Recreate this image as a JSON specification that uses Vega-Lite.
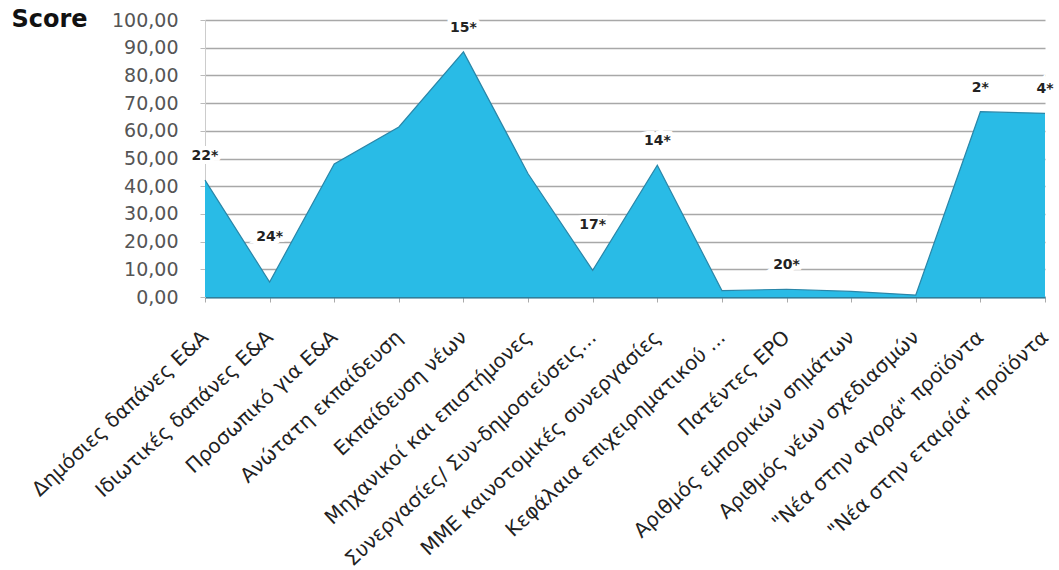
{
  "$schema": "https://vega.github.io/schema/vega-lite/v6.json",
  "width": 840,
  "height": 277,
  "autosize": {"type": "none"},
  "padding": {"left": 205, "top": 20, "right": 14, "bottom": 273},
  "background": "white",
  "config": {
    "view": {"stroke": null},
    "font": "DejaVu Sans"
  },
  "data": {
    "values": [
      {"cat": "Δημόσιες δαπάνες Ε&Α", "value": 42.2, "label": "22*", "extremum": "max"},
      {"cat": "Ιδιωτικές δαπάνες Ε&Α", "value": 5.4, "label": "24*", "extremum": "min"},
      {"cat": "Προσωπικό για Ε&Α", "value": 48.0, "label": "", "extremum": ""},
      {"cat": "Ανώτατη εκπαίδευση", "value": 61.4, "label": "", "extremum": ""},
      {"cat": "Εκπαίδευση νέων", "value": 88.5, "label": "15*", "extremum": "max"},
      {"cat": "Μηχανικοί και επιστήμονες", "value": 44.5, "label": "", "extremum": ""},
      {"cat": "Συνεργασίες/ Συν-δημοσιεύσεις...", "value": 9.6, "label": "17*", "extremum": "min"},
      {"cat": "ΜΜΕ καινοτομικές συνεργασίες", "value": 47.6, "label": "14*", "extremum": "max"},
      {"cat": "Κεφάλαια επιχειρηματικού ...", "value": 2.3, "label": "", "extremum": ""},
      {"cat": "Πατέντες EPO", "value": 2.8, "label": "20*", "extremum": "max"},
      {"cat": "Αριθμός εμπορικών σημάτων", "value": 2.0, "label": "", "extremum": ""},
      {"cat": "Αριθμός νέων σχεδιασμών", "value": 0.7, "label": "", "extremum": ""},
      {"cat": "\"Νέα στην αγορά\" προϊόντα", "value": 66.9, "label": "2*", "extremum": "max"},
      {"cat": "\"Νέα στην εταιρία\" προϊόντα", "value": 66.3, "label": "4*", "extremum": "max"}
    ]
  },
  "encoding": {
    "x": {
      "field": "cat",
      "type": "nominal",
      "sort": null,
      "scale": {"type": "point", "padding": 0},
      "axis": {
        "title": null,
        "labelAngle": -43,
        "labelAlign": "right",
        "labelBaseline": "middle",
        "labelFont": "DejaVu Sans",
        "labelFontSize": 20,
        "labelColor": "#222",
        "labelPadding": 32,
        "labelLimit": 400,
        "labelOverlap": false,
        "ticks": true,
        "tickSize": 5,
        "tickColor": "#aaa",
        "domainColor": "#2f7f9c",
        "domainWidth": 2,
        "grid": false
      }
    },
    "y": {
      "field": "value",
      "type": "quantitative",
      "scale": {"domain": [0, 100], "nice": false},
      "axis": {
        "tickCount": 10,
        "labelOverlap": false,
        "labelExpr": "replace(format(datum.value, '.2f'), '.', ',')",
        "labelFont": "DejaVu Sans",
        "labelFontSize": 19,
        "labelColor": "#555",
        "labelPadding": 22,
        "tickSize": 5,
        "tickColor": "#bbb",
        "domainColor": "#ccc",
        "grid": true,
        "gridColor": "#a8a8a8",
        "gridWidth": 1.5,
        "title": "Score",
        "titleAngle": 0,
        "titleFont": "DejaVu Sans",
        "titleFontSize": 24,
        "titleFontWeight": "bold",
        "titleColor": "#111",
        "titleAlign": "left",
        "titleBaseline": "middle",
        "titleX": -194,
        "titleY": -1
      }
    }
  },
  "layer": [
    {
      "mark": {"type": "area", "color": "#29bbe6", "line": {"color": "#2a86a8", "strokeWidth": 1.2}, "opacity": 1}
    },
    {
      "transform": [{"filter": "datum.extremum == 'max'"}],
      "mark": {"type": "text", "dy": -24, "fontSize": 14, "fontWeight": "bold", "stroke": "white", "strokeWidth": 8, "fill": "white"},
      "encoding": {"text": {"field": "label"}}
    },
    {
      "transform": [{"filter": "datum.extremum == 'min'"}],
      "mark": {"type": "text", "dy": -45, "fontSize": 14, "fontWeight": "bold", "stroke": "white", "strokeWidth": 8, "fill": "white"},
      "encoding": {"text": {"field": "label"}}
    },
    {
      "transform": [{"filter": "datum.extremum == 'max'"}],
      "mark": {"type": "text", "dy": -24, "fontSize": 14, "fontWeight": "bold", "color": "#222"},
      "encoding": {"text": {"field": "label"}}
    },
    {
      "transform": [{"filter": "datum.extremum == 'min'"}],
      "mark": {"type": "text", "dy": -45, "fontSize": 14, "fontWeight": "bold", "color": "#222"},
      "encoding": {"text": {"field": "label"}}
    }
  ]
}
